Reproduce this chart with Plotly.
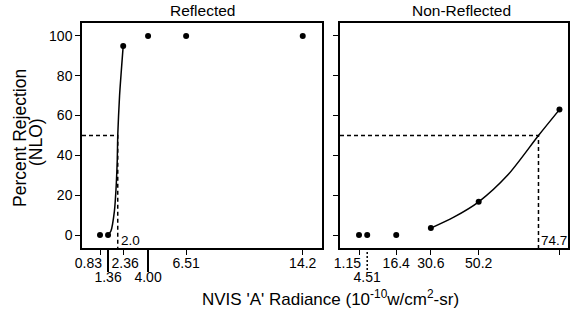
import plotly.graph_objects as go

# ---------------- data ----------------
refl_x = [0.83, 1.36, 2.36, 4.00, 6.51, 14.2]
refl_y = [0, 0, 95, 100, 100, 100]
refl_fit_x = [1.36, 1.55, 1.78, 1.90, 1.97, 2.0, 2.12, 2.36]
refl_fit_y = [0, 2, 12, 25, 38, 50, 70, 95]
refl_thresh = 2.0

nonrefl_x = [1.15, 4.51, 16.4, 30.6, 50.2, 83.3]
nonrefl_y = [0, 0, 0, 3.5, 16.7, 63]
nonrefl_fit_x = [30.6, 40, 50.2, 62, 74.7, 83.3]
nonrefl_fit_y = [3.5, 9, 16.7, 30, 50, 63]
nonrefl_thresh = 74.7

level = 50
y_ticks = [0, 20, 40, 60, 80, 100]

# tick rows (row 1 = upper labels, row 2 = lower labels on long ticks)
refl_row1 = [0.83, 2.36, 6.51, 14.2]
refl_row1_text = ["0.83" + "&nbsp;" * 6, "&nbsp;2.36", "6.51", "14.2"]
refl_row2 = [1.36, 4.00]
refl_row2_text = ["1.36", "4.00"]
nonrefl_row1 = [1.15, 16.4, 30.6, 50.2, 83.3]
nonrefl_row1_text = ["1.15" + "&nbsp;" * 6, "16.4", "30.6", "50.2", "83.3"]
nonrefl_row2 = [4.51]
nonrefl_row2_text = ["4.51"]

# ---------------- geometry ----------------
W, H = 570, 313
ML, MR, MT, MB = 82, 2, 23, 65
PW = W - ML - MR
PH = H - MT - MB


def px_x(px):
    return (px - ML) / PW


def px_y(py):
    return (MT + PH - py) / PH


YR = [-6.5, 106.5]
XR1 = [-0.357, 15.47]
XR2 = [-6.64, 86.8]

FONT = "Liberation Sans, Arial, sans-serif"
fig = go.Figure()

# left panel
fig.add_trace(go.Scatter(x=[XR1[0], refl_thresh, refl_thresh], y=[level, level, YR[0]],
                         mode="lines", line=dict(color="black", width=1.5, dash="4px,3px"),
                         xaxis="x", yaxis="y", cliponaxis=False, hoverinfo="skip"))
fig.add_trace(go.Scatter(x=refl_fit_x, y=refl_fit_y, mode="lines",
                         line=dict(color="black", width=1.5, shape="spline", smoothing=0.6),
                         xaxis="x", yaxis="y"))
fig.add_trace(go.Scatter(x=refl_x, y=refl_y, mode="markers",
                         marker=dict(color="black", size=6), xaxis="x", yaxis="y"))
# invisible helper so the second tick row (overlay axis) is drawn
fig.add_trace(go.Scatter(x=refl_row2, y=[level] * len(refl_row2), mode="markers",
                         marker=dict(opacity=0), xaxis="x3", yaxis="y", hoverinfo="skip"))

# right panel
fig.add_trace(go.Scatter(x=[XR2[0], nonrefl_thresh, nonrefl_thresh], y=[level, level, YR[0]],
                         mode="lines", line=dict(color="black", width=1.5, dash="4px,3px"),
                         xaxis="x2", yaxis="y2", cliponaxis=False, hoverinfo="skip"))
fig.add_trace(go.Scatter(x=nonrefl_fit_x, y=nonrefl_fit_y, mode="lines",
                         line=dict(color="black", width=1.5, shape="spline", smoothing=0.8),
                         xaxis="x2", yaxis="y2"))
fig.add_trace(go.Scatter(x=nonrefl_x, y=nonrefl_y, mode="markers",
                         marker=dict(color="black", size=6), xaxis="x2", yaxis="y2",
                         cliponaxis=False))
fig.add_trace(go.Scatter(x=nonrefl_row2, y=[level] * len(nonrefl_row2), mode="markers",
                         marker=dict(opacity=0), xaxis="x4", yaxis="y2", hoverinfo="skip"))

tickfont = dict(family=FONT, size=14, color="black")
axis_common = dict(showline=True, linecolor="black", linewidth=1.5, mirror=True,
                   showgrid=False, zeroline=False, ticks="outside", ticklen=5,
                   tickcolor="black", tickwidth=1.2, tickangle=0, automargin=False,
                   tickfont=tickfont)
row2_common = dict(showline=False, showgrid=False, zeroline=False, ticks="outside",
                   ticklen=23, tickwidth=1.5, tickangle=0, automargin=False,
                   ticklabelstandoff=-7, tickfont=tickfont, side="bottom", tickmode="array")

split1 = (322 - ML) / PW
split2 = (340 - ML) / PW

fig.update_layout(
    width=W, height=H,
    margin=dict(l=ML, r=MR, t=MT, b=MB),
    paper_bgcolor="white", plot_bgcolor="white",
    showlegend=False,
    xaxis=dict(domain=[0, split1], range=XR1, tickmode="array", ticklabelstandoff=-4,
               tickvals=refl_row1, ticktext=refl_row1_text, anchor="y", **axis_common),
    yaxis=dict(domain=[0, 1], range=YR, tickmode="array", tickvals=y_ticks,
               anchor="x", **axis_common),
    xaxis2=dict(domain=[split2, 1], range=XR2, tickmode="array", ticklabelstandoff=-4,
                tickvals=nonrefl_row1, ticktext=nonrefl_row1_text, anchor="y2", **axis_common),
    yaxis2=dict(domain=[0, 1], range=YR, tickmode="array", tickvals=y_ticks,
                showticklabels=False, anchor="x2", **axis_common),
    xaxis3=dict(overlaying="x", anchor="y", range=XR1, tickvals=refl_row2,
                ticktext=refl_row2_text, tickcolor="black", **row2_common),
    xaxis4=dict(overlaying="x2", anchor="y2", range=XR2, tickvals=nonrefl_row2,
                ticktext=nonrefl_row2_text, tickcolor="rgba(0,0,0,0)", **row2_common),
)

# dotted long tick on the right panel
for v in nonrefl_row2:
    fig.add_shape(type="line", xref="x2", yref="y2 domain", x0=v, x1=v, y0=0, y1=-23 / PH,
                  line=dict(color="black", width=1.5, dash="2px,2px"))

# threshold labels
fig.add_annotation(x=refl_thresh, y=-2.6, xref="x", yref="y", text=f"{refl_thresh:.1f}",
                   showarrow=False, xanchor="left", yanchor="middle", xshift=1,
                   font=dict(family=FONT, size=13.5, color="black"))
fig.add_annotation(x=nonrefl_thresh, y=-2.6, xref="x2", yref="y2", text=f"{nonrefl_thresh}",
                   showarrow=False, xanchor="left", yanchor="middle", xshift=1,
                   font=dict(family=FONT, size=13.5, color="black"))

# panel titles
fig.add_annotation(x=px_x(202), y=px_y(10), xref="paper", yref="paper", text="Reflected",
                   showarrow=False, xanchor="center", yanchor="middle",
                   font=dict(family=FONT, size=15.5, color="black"))
fig.add_annotation(x=px_x(461), y=px_y(10), xref="paper", yref="paper", text="Non-Reflected",
                   showarrow=False, xanchor="center", yanchor="middle",
                   font=dict(family=FONT, size=15.5, color="black"))

# axis titles
fig.add_annotation(x=px_x(330), y=px_y(298), xref="paper", yref="paper",
                   text="NVIS 'A' Radiance (10<sup>-10</sup>w/cm<sup>2</sup>-sr)",
                   showarrow=False, xanchor="center", yanchor="middle",
                   font=dict(family=FONT, size=17, color="black"))
fig.add_annotation(x=px_x(20), y=px_y(138), xref="paper", yref="paper", text="Percent Rejection",
                   showarrow=False, textangle=-90, xanchor="center", yanchor="middle",
                   font=dict(family=FONT, size=17.5, color="black"))
fig.add_annotation(x=px_x(36), y=px_y(142), xref="paper", yref="paper", text="(NLO)",
                   showarrow=False, textangle=-90, xanchor="center", yanchor="middle",
                   font=dict(family=FONT, size=17.5, color="black"))

fig.write_html("out.html", config={"displayModeBar": False},
               post_script="document.body.style.margin='0px';"
               "document.body.style.overflow='hidden';")
